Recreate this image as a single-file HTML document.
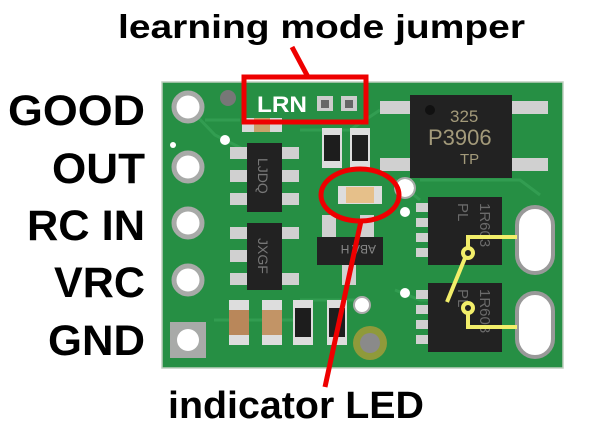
<!DOCTYPE html>
<html><head><meta charset="utf-8"><style>
html,body{margin:0;padding:0;background:#fff;width:600px;height:436px;overflow:hidden}
svg{display:block}
text{font-family:"Liberation Sans",sans-serif;font-weight:bold}
</style></head><body>
<svg width="600" height="436" viewBox="0 0 600 436" xmlns="http://www.w3.org/2000/svg">
<rect x="162" y="82" width="401" height="286" fill="#268f44"/>
<rect x="162" y="82" width="401" height="286" fill="none" stroke="#bfcfbf" stroke-width="1.5"/>
<g stroke="#36a055" stroke-width="3" fill="none" opacity="0.8">
<path d="M188 107 L215 135 L245 150"/><path d="M205 120 L240 120"/><path d="M300 130 L350 130 L380 110"/>
<path d="M395 180 L420 200"/><path d="M395 290 L420 300 L470 300"/><path d="M300 300 L360 300"/>
<path d="M214 320 L300 320"/><path d="M420 180 L520 180 L540 195"/>
</g>
<g fill="#fff" stroke="#a8aaa8" stroke-width="5">
<circle cx="188" cy="107" r="14"/><circle cx="188" cy="167" r="14"/><circle cx="188" cy="223" r="14"/><circle cx="188" cy="280" r="14"/>
</g>
<rect x="170" y="322" width="36" height="36" fill="#a8aaa8"/><circle cx="188" cy="340" r="11" fill="#fff"/>
<circle cx="228" cy="98" r="8" fill="#777"/>
<circle cx="225" cy="140" r="5" fill="#fff"/><circle cx="173" cy="145" r="3" fill="#fff"/>
<circle cx="405" cy="188" r="9" fill="#fff"/><circle cx="405" cy="188" r="10" fill="none" stroke="#aaa" stroke-width="2"/>
<circle cx="405" cy="212" r="5" fill="#fff"/><circle cx="405" cy="293" r="5" fill="#fff"/>
<circle cx="362" cy="305" r="8" fill="#fff" stroke="#aaa" stroke-width="2"/>
<circle cx="370" cy="343" r="17" fill="#8f9a3a"/><circle cx="370" cy="343" r="10" fill="#8a8a8a"/>
<rect x="517" y="207" width="36" height="66" rx="18" fill="#fff" stroke="#999" stroke-width="4"/>
<rect x="517" y="293" width="36" height="64" rx="18" fill="#fff" stroke="#999" stroke-width="4"/>
<text x="257" y="112" fill="#fff" font-size="22" textLength="50" lengthAdjust="spacingAndGlyphs">LRN</text>
<rect x="317" y="96" width="16" height="15" fill="#ccc"/><rect x="341" y="96" width="16" height="15" fill="#ccc"/>
<rect x="321" y="100" width="8" height="8" fill="#666"/><rect x="345" y="100" width="8" height="8" fill="#666"/>
<rect x="242" y="118" width="40" height="14" fill="#d8d8d8"/><rect x="254" y="118" width="16" height="14" fill="#c9a26a"/>
<rect x="322" y="128" width="20" height="40" fill="#ddd"/><rect x="324" y="135" width="16" height="26" fill="#1d1d1d"/>
<rect x="350" y="128" width="20" height="40" fill="#ddd"/><rect x="352" y="135" width="16" height="26" fill="#1d1d1d"/>
<g fill="#d0d0d0"><rect x="380" y="101" width="32" height="13"/><rect x="380" y="158" width="32" height="13"/><rect x="510" y="101" width="38" height="13"/><rect x="510" y="158" width="38" height="13"/></g>
<rect x="410" y="95" width="102" height="83" fill="#222"/>
<circle cx="430" cy="110" r="5" fill="#111"/>
<text x="450" y="122" fill="#a39a7a" font-size="17" style="font-weight:normal">325</text>
<text x="428" y="145" fill="#a39a7a" font-size="22" style="font-weight:normal">P3906</text>
<text x="460" y="164" fill="#a39a7a" font-size="15" style="font-weight:normal">TP</text>
<g fill="#d0d0d0">
<rect x="230" y="147" width="18" height="12"/><rect x="230" y="170" width="18" height="12"/><rect x="230" y="193" width="18" height="12"/>
<rect x="281" y="147" width="18" height="12"/><rect x="281" y="170" width="18" height="12"/><rect x="281" y="193" width="18" height="12"/>
<rect x="230" y="227" width="18" height="12"/><rect x="230" y="250" width="18" height="12"/><rect x="230" y="273" width="18" height="12"/>
<rect x="281" y="227" width="18" height="12"/><rect x="281" y="273" width="18" height="12"/>
</g>
<rect x="247" y="143" width="35" height="69" fill="#222"/>
<rect x="247" y="223" width="35" height="67" fill="#222"/>
<text transform="translate(258,158) rotate(90)" fill="#777" font-size="14" style="font-weight:normal">LJDQ</text>
<text transform="translate(258,238) rotate(90)" fill="#777" font-size="14" style="font-weight:normal">JXGF</text>
<g fill="#d0d0d0"><rect x="322" y="215" width="14" height="22"/><rect x="360" y="215" width="14" height="22"/><rect x="342" y="265" width="14" height="20"/></g>
<rect x="317" y="237" width="66" height="28" fill="#222"/>
<text transform="translate(376,245) rotate(180)" fill="#888" font-size="12" style="font-weight:normal">ABA   H</text>
<rect x="338" y="186" width="44" height="18" fill="#ddd"/><rect x="346" y="187" width="28" height="16" fill="#e6c08a"/>
<g fill="#d0d0d0">
<rect x="416" y="203" width="14" height="9"/><rect x="416" y="218" width="14" height="9"/><rect x="416" y="233" width="14" height="9"/><rect x="416" y="248" width="14" height="9"/>
<rect x="416" y="290" width="14" height="9"/><rect x="416" y="305" width="14" height="9"/><rect x="416" y="320" width="14" height="9"/><rect x="416" y="335" width="14" height="9"/>
</g>
<rect x="428" y="197" width="74" height="68" fill="#222"/>
<rect x="428" y="283" width="74" height="69" fill="#222"/>
<g fill="#6a6a6a" font-size="15">
<text transform="translate(458,203) rotate(90)" style="font-weight:normal">PL</text>
<text transform="translate(480,203) rotate(90)" style="font-weight:normal">1R603</text>
<text transform="translate(458,289) rotate(90)" style="font-weight:normal">PL</text>
<text transform="translate(480,289) rotate(90)" style="font-weight:normal">1R603</text>
</g>
<rect x="229" y="300" width="20" height="45" fill="#ddd"/><rect x="229" y="310" width="20" height="25" fill="#b9875a"/>
<rect x="262" y="300" width="20" height="45" fill="#ddd"/><rect x="262" y="310" width="20" height="25" fill="#c29466"/>
<rect x="293" y="300" width="20" height="45" fill="#ddd"/><rect x="295" y="308" width="16" height="29" fill="#1d1d1d"/>
<rect x="327" y="300" width="20" height="45" fill="#ddd"/><rect x="329" y="308" width="16" height="29" fill="#1d1d1d"/>
<g stroke="#f2ee6a" stroke-width="4" fill="none">
<path d="M517 237 L468 237 L468 248"/><circle cx="468" cy="253" r="5"/><path d="M465 258 L447 302"/>
<circle cx="468" cy="308" r="5"/><path d="M468 313 L468 327 L517 327"/>
</g>
<g stroke="#ee0000" fill="none" stroke-width="5">
<rect x="244" y="77" width="122" height="45"/>
<path d="M292 47 L308 77"/>
<ellipse cx="360" cy="195" rx="39" ry="26"/>
<path d="M361 221 L325 387"/>
</g>
<text x="118" y="38" font-size="33" fill="#000" textLength="407" lengthAdjust="spacingAndGlyphs">learning mode jumper</text>
<g font-size="43" fill="#000">
<text x="8" y="125" textLength="137" lengthAdjust="spacingAndGlyphs">GOOD</text>
<text x="52" y="183" textLength="93" lengthAdjust="spacingAndGlyphs">OUT</text>
<text x="27" y="240" textLength="118" lengthAdjust="spacingAndGlyphs">RC IN</text>
<text x="54" y="297" textLength="91" lengthAdjust="spacingAndGlyphs">VRC</text>
<text x="48" y="355" textLength="97" lengthAdjust="spacingAndGlyphs">GND</text>
</g>
<text x="168" y="418" font-size="38" fill="#000" textLength="256" lengthAdjust="spacingAndGlyphs">indicator LED</text>
</svg>
</body></html>
